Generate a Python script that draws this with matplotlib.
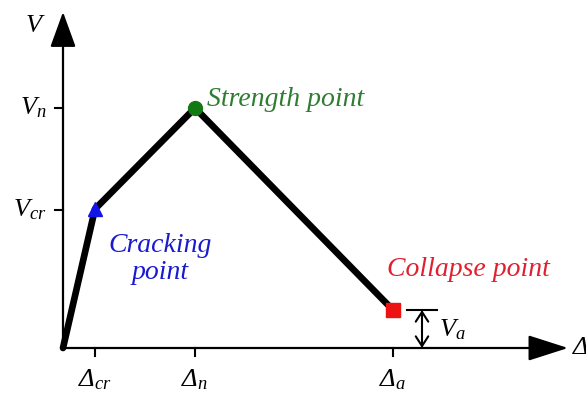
import matplotlib
matplotlib.use("Agg")
import matplotlib.pyplot as plt

plt.rcParams["mathtext.fontset"] = "custom"
plt.rcParams["mathtext.rm"] = "Liberation Serif"
plt.rcParams["mathtext.it"] = "Liberation Serif:italic"
plt.rcParams["font.family"] = ["Liberation Serif", "DejaVu Serif"]

# Backbone curve of the shear-drift model (arbitrary units)
point_names = ["origin", "cracking", "strength", "collapse"]
drift = [0.0, 0.32, 1.32, 3.30]
shear = [0.0, 1.39, 2.40, 0.38]

x_ticks = [0.32, 1.32, 3.30]
x_tick_labels = ["Δ$_{cr}$", "Δ$_{n}$", "Δ$_{a}$"]
y_ticks = [1.38, 2.40]
y_tick_labels = [r"$V_{cr}$", r"$V_{n}$"]

FS = 19
FS_NOTE = 20

W, H = 586, 396
fig = plt.figure(figsize=(W / 100, H / 100), dpi=100)
x0, y0 = 63, 348
ax = fig.add_axes([x0 / W, (H - y0) / H, (568 - x0) / W, (y0 - 12) / H])
ax.set_xlim(0, 5.05)
ax.set_ylim(0, 3.36)
ax.axis("off")

# axes with arrowheads
ax.annotate("", xy=(1, 0), xytext=(0, 0), xycoords="axes fraction",
            arrowprops=dict(arrowstyle="-|>,head_length=2.5,head_width=0.8",
                            lw=1.6, color="black", shrinkA=0, shrinkB=0))
ax.annotate("", xy=(0, 1), xytext=(0, 0), xycoords="axes fraction",
            arrowprops=dict(arrowstyle="-|>,head_length=2.2,head_width=0.8",
                            lw=1.6, color="black", shrinkA=0, shrinkB=0))

# ticks
for xt, lab in zip(x_ticks, x_tick_labels):
    ax.plot([xt, xt], [0, -0.08], color="black", lw=1.5, clip_on=False)
    ax.text(xt, -0.32, lab, ha="center", va="center", fontsize=FS,
            style="italic")
for yt, lab in zip(y_ticks, y_tick_labels):
    ax.plot([-0.08, 0], [yt, yt], color="black", lw=1.5, clip_on=False)
    ax.text(-0.16, yt, lab, ha="right", va="center", fontsize=FS)

ax.text(-0.28, 3.22, r"$V$", ha="center", va="center", fontsize=FS)
ax.text(5.10, 0.0, "Δ", ha="left", va="center", fontsize=FS,
        style="italic", clip_on=False)

# backbone
ax.plot(drift, shear, color="black", lw=4.8, solid_capstyle="round",
        solid_joinstyle="round", clip_on=False)
ax.plot(drift[1], shear[1], marker="^", color="#1414e6", ms=10, ls="none")
ax.plot(drift[2], shear[2], marker="o", color="#137a13", ms=10, ls="none")
ax.plot(drift[3], shear[3], marker="s", color="#ee1111", ms=10, ls="none")

ax.text(1.44, 2.49, "Strength point", color="#2e7d32", fontsize=FS_NOTE,
        style="italic", ha="left", va="center")
ax.text(0.97, 0.89, "Cracking\npoint", color="#1a1ad0", fontsize=FS_NOTE,
        style="italic", ha="center", va="center", linespacing=1.15)
ax.text(4.05, 0.78, "Collapse point", color="#e02030", fontsize=FS_NOTE,
        style="italic", ha="center", va="center")

# residual strength dimension
va = shear[3]
xa = drift[3] + 0.29
ax.plot([drift[3] + 0.14, drift[3] + 0.44], [va, va], color="black", lw=1.5)
ax.annotate("", xy=(xa, va), xytext=(xa, 0),
            arrowprops=dict(arrowstyle="<->,head_length=0.7,head_width=0.45",
                            lw=1.5, color="black", shrinkA=0, shrinkB=0))
ax.text(xa + 0.17, 0.18, r"$V_{a}$", ha="left", va="center", fontsize=FS)

fig.savefig("out.png", dpi=100)
